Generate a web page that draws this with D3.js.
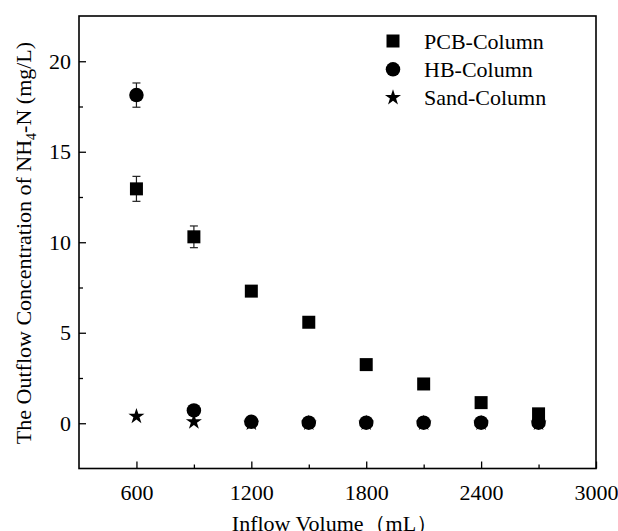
<!DOCTYPE html>
<html>
<head>
<meta charset="utf-8">
<script src="https://cdn.jsdelivr.net/npm/d3@7"></script>
<style>
  html, body { margin: 0; padding: 0; background: #fff; }
  svg { display: block; }
  text { font-family: "Liberation Serif", "Times New Roman", serif; fill: #000; }
</style>
</head>
<body>
<svg id="chart" width="618" height="531"></svg>
<script>
// inflow volume (mL)
var volumes = [600, 900, 1200, 1500, 1800, 2100, 2400, 2700];
// outflow NH4-N (mg/L)
var pcbValues  = [12.95, 10.3, 7.3, 5.58, 3.24, 2.17, 1.14, 0.52];
var pcbErrors  = [0.69, 0.6, 0, 0, 0, 0, 0, 0];
var hbValues   = [18.13, 0.71, 0.08, 0.03, 0.03, 0.03, 0.03, 0.03];
var hbErrors   = [0.67, 0, 0, 0, 0, 0, 0, 0];
var sandValues = [0.38, 0.08, 0.0, 0.0, 0.0, 0.0, 0.0, 0.0];

var xMajor = [600, 1200, 1800, 2400, 3000];
var xMinor = [900, 1500, 2100, 2700];
var yMajor = [0, 5, 10, 15, 20];
var yMinor = [2.5, 7.5, 12.5, 17.5];
var seriesNames = ["PCB-Column", "HB-Column", "Sand-Column"];

var svg = d3.select("#chart");
var plotL = 79, plotR = 596, plotT = 16, plotB = 468.5;

var x = d3.scaleLinear().domain([300, 3000]).range([plotL, plotR]);
var y = d3.scaleLinear().domain([-2.5, 22.5]).range([plotB, plotT]);

// inward ticks
function tickAxis(axis, transform){
  var g = svg.append("g").attr("transform", transform).call(axis);
  g.select(".domain").remove();
  g.selectAll("line").attr("stroke", "#000").attr("stroke-width", 1.3);
  g.selectAll("text").style("font-size", "22px").attr("font-family", null);
  return g;
}

tickAxis(d3.axisBottom(x).tickValues(xMajor).tickSize(-7).tickPadding(16).tickFormat(d3.format("d")),
  "translate(0," + plotB + ")");
tickAxis(d3.axisBottom(x).tickValues(xMinor).tickSize(-4).tickFormat(""), "translate(0," + plotB + ")");
tickAxis(d3.axisLeft(y).tickValues(yMajor).tickSize(-7).tickPadding(8).tickFormat(d3.format("d")),
  "translate(" + plotL + ",0)");
tickAxis(d3.axisLeft(y).tickValues(yMinor).tickSize(-4).tickFormat(""), "translate(" + plotL + ",0)");

// frame
svg.append("rect")
  .attr("x", plotL).attr("y", plotT)
  .attr("width", plotR - plotL).attr("height", plotB - plotT)
  .attr("fill", "none").attr("stroke", "#000").attr("stroke-width", 1.6);

// error bars
function errorBars(vals, errs){
  var data = volumes.map(function(v, i){ return {x: v, y: vals[i], e: errs[i]}; })
    .filter(function(d){ return d.e > 0; });
  var g = svg.append("g").attr("stroke", "#222").attr("stroke-width", 1.2);
  data.forEach(function(d){
    g.append("line").attr("x1", x(d.x)).attr("x2", x(d.x))
      .attr("y1", y(d.y - d.e)).attr("y2", y(d.y + d.e));
    [d.y - d.e, d.y + d.e].forEach(function(v){
      g.append("line").attr("x1", x(d.x) - 4).attr("x2", x(d.x) + 4)
        .attr("y1", y(v)).attr("y2", y(v));
    });
  });
}
errorBars(pcbValues, pcbErrors);
errorBars(hbValues, hbErrors);

var symbols = [d3.symbol().type(d3.symbolSquare).size(169),
               d3.symbol().type(d3.symbolCircle).size(165),
               d3.symbol().type(d3.symbolStar).size(80)];

function points(vals, sym){
  svg.append("g").selectAll("path").data(volumes).enter()
    .append("path")
    .attr("transform", function(d, i){ return "translate(" + x(d) + "," + y(vals[i]) + ")"; })
    .attr("d", sym)
    .attr("fill", "#000");
}
points(sandValues, symbols[2]);
points(pcbValues, symbols[0]);
points(hbValues, symbols[1]);

// legend
var legend = svg.append("g");
seriesNames.forEach(function(name, i){
  var ly = 41 + i * 28.3;
  legend.append("path").attr("transform", "translate(393," + ly + ")")
    .attr("d", symbols[i]).attr("fill", "#000");
  legend.append("text").attr("x", 424).attr("y", ly + 7.5)
    .style("font-size", "22px").text(name);
});

// axis titles
svg.append("text")
  .attr("x", 335).attr("y", 531)
  .attr("text-anchor", "middle")
  .style("font-size", "22px")
  .text("Inflow Volume（mL）");

var yt = svg.append("text")
  .attr("transform", "translate(31," + 243 + ") rotate(-90)")
  .attr("text-anchor", "middle")
  .style("font-size", "22px");
yt.append("tspan").text("The Outflow Concentration of NH");
yt.append("tspan").attr("dy", 5).style("font-size", "14px").text("4");
yt.append("tspan").attr("dy", -5).text("-N (mg/L)");
</script>
</body>
</html>
